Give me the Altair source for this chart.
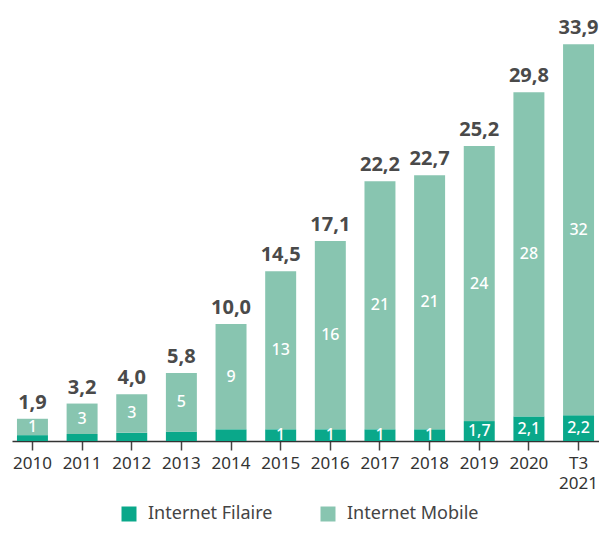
import altair as alt
import pandas as pd

years = ["2010", "2011", "2012", "2013", "2014", "2015", "2016", "2017", "2018", "2019", "2020", "T3 2021"]
totals = [1.9, 3.2, 4.0, 5.8, 10.0, 14.5, 17.1, 22.2, 22.7, 25.2, 29.8, 33.9]
total_labels = ["1,9", "3,2", "4,0", "5,8", "10,0", "14,5", "17,1", "22,2", "22,7", "25,2", "29,8", "33,9"]
filaire = [0.5, 0.6, 0.7, 0.8, 1.0, 1.0, 1.0, 1.0, 1.0, 1.7, 2.1, 2.2]
filaire_labels = ["", "", "", "", "", "1", "1", "1", "1", "1,7", "2,1", "2,2"]
mobile_labels = ["1", "3", "3", "5", "9", "13", "16", "21", "21", "24", "28", "32"]
series = ["Internet Filaire", "Internet Mobile"]
colors = ["#0aa88a", "#88c5b0"]

FONT = "Noto Sans"

rows = []
for i, y in enumerate(years):
    mob = round(totals[i] - filaire[i], 2)
    rows.append({"year": y, "serie": series[0], "v0": 0.0, "v1": filaire[i],
                 "label": filaire_labels[i], "mid": filaire[i] / 2})
    rows.append({"year": y, "serie": series[1], "v0": filaire[i], "v1": totals[i],
                 "label": mobile_labels[i], "mid": filaire[i] + mob / 2})
df = pd.DataFrame(rows)
tot = pd.DataFrame({"year": years, "total": totals, "label": total_labels})

xenc = alt.X("year:N", sort=years, title=None,
             scale=alt.Scale(paddingInner=0.376, paddingOuter=0.1),
             axis=alt.Axis(labelAngle=0, labelFont=FONT, labelFontSize=17, labelColor="#333333",
                           labelPadding=5, tickSize=9, tickColor="#444444", tickWidth=1.5,
                           domainColor="#333333", domainWidth=1.5, labelLineHeight=20,
                           labelBaseline="top",
                           labelExpr="datum.label == 'T3 2021' ? ['T3', '2021'] : datum.label"))
yscale = alt.Scale(domain=[0, 37], nice=False)

bars = alt.Chart(df).mark_bar().encode(
    x=xenc,
    y=alt.Y("v0:Q", scale=yscale, axis=None),
    y2="v1:Q",
    color=alt.Color("serie:N", scale=alt.Scale(domain=series, range=colors),
                    legend=alt.Legend(title=None, orient="none", legendX=108, legendY=497,
                                      direction="horizontal", symbolType="square",
                                      symbolSize=225, symbolStrokeWidth=0, symbolOpacity=1,
                                      labelFont=FONT, labelFontSize=18, labelColor="#444444",
                                      columnPadding=46, labelOffset=10)),
)

inner = alt.Chart(df).mark_text(color="white", font=FONT, fontSize=16, fontWeight=500,
                                baseline="middle").encode(
    x=alt.X("year:N", sort=years),
    y=alt.Y("mid:Q", scale=yscale),
    text="label:N",
)

top = alt.Chart(tot).mark_text(color="#4a4a4a", font=FONT, fontSize=20, fontWeight="bold",
                               baseline="alphabetic", dy=-10).encode(
    x=alt.X("year:N", sort=years),
    y=alt.Y("total:Q", scale=yscale),
    text="label:N",
)

chart = alt.layer(bars, inner, top).properties(
    width=587, height=433,
    autosize=alt.AutoSizeParams(type="none"),
    padding={"left": 4, "top": 0, "right": 0, "bottom": 85},
).configure_view(stroke=None)

chart.save("out.html", embed_options={"renderer": "svg", "actions": False})
